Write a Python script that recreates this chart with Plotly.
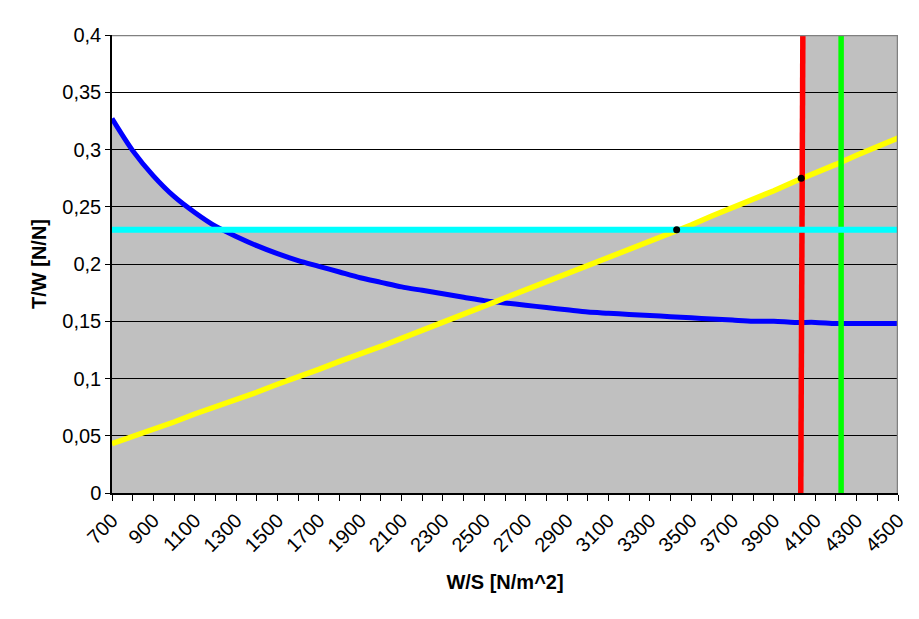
import numpy as np
import plotly.graph_objects as go

# ---- data ----
ws = list(range(700, 4501, 100))  # W/S [N/m^2] categories
tw_blue = [0.327, 0.299, 0.277, 0.259, 0.245, 0.233, 0.224, 0.216, 0.209, 0.203,
           0.198, 0.193, 0.188, 0.184, 0.180, 0.177, 0.174, 0.171, 0.168, 0.166,
           0.164, 0.162, 0.160, 0.158, 0.157, 0.156, 0.155, 0.154, 0.153, 0.152,
           0.151, 0.150, 0.150, 0.149, 0.149, 0.148, 0.148, 0.148, 0.148]
tw_yellow = [0.043, 0.049, 0.056, 0.062, 0.069, 0.075, 0.082, 0.088, 0.095, 0.101,
             0.108, 0.115, 0.121, 0.128, 0.135, 0.142, 0.149, 0.156, 0.163, 0.170,
             0.177, 0.184, 0.191, 0.198, 0.205, 0.212, 0.220, 0.227, 0.234, 0.242,
             0.249, 0.257, 0.264, 0.272, 0.279, 0.287, 0.295, 0.302, 0.310]
cyan_x = [700, 4500]
cyan_y = [0.23, 0.23]
red_x = [4030, 4040]
red_y = [0.0, 0.4]
green_x = [4225, 4225]
green_y = [0.0, 0.4]
dot_x = [3430, 4032]
dot_y = [0.23, 0.275]
x_ticks = list(range(700, 4501, 100))
x_labels = [str(v) if (v - 700) % 200 == 0 else "" for v in x_ticks]
y_ticks = [0, 0.05, 0.1, 0.15, 0.2, 0.25, 0.3, 0.35, 0.4]

FONT = "Liberation Sans, Arial, sans-serif"
GRAY = "#C0C0C0"

# ---- white (feasible) region built from the series ----
xf = np.linspace(ws[0], red_x[0], 600)
env = np.maximum.reduce([np.interp(xf, ws, tw_blue),
                         np.interp(xf, ws, tw_yellow),
                         np.full_like(xf, cyan_y[0])])
pts = [(xf[0], 0.4)] + list(zip(xf, env)) + [(red_x[0], env[-1]), (red_x[1], 0.4)]
path = "M " + " L ".join(f"{a:.2f},{b:.5f}" for a, b in pts) + " Z"

fig = go.Figure()
line_w = 5.5
fig.add_trace(go.Scatter(x=ws, y=tw_blue, mode="lines",
                         line=dict(color="#0000FF", width=5, shape="spline", smoothing=0.8),
                         hoverinfo="skip"))
fig.add_trace(go.Scatter(x=ws, y=tw_yellow, mode="lines",
                         line=dict(color="#FFFF00", width=line_w), hoverinfo="skip"))
fig.add_trace(go.Scatter(x=red_x, y=red_y, mode="lines",
                         line=dict(color="#FF0000", width=line_w), hoverinfo="skip"))
fig.add_trace(go.Scatter(x=green_x, y=green_y, mode="lines",
                         line=dict(color="#00FF00", width=line_w), hoverinfo="skip"))
fig.add_trace(go.Scatter(x=cyan_x, y=cyan_y, mode="lines",
                         line=dict(color="#00FFFF", width=6), hoverinfo="skip"))
fig.add_trace(go.Scatter(x=dot_x, y=dot_y, mode="markers",
                         marker=dict(color="black", size=7), hoverinfo="skip"))

# page body has an 8px margin, so the figure is shifted by 8px
fig.update_layout(
    width=911, height=611,
    margin=dict(l=104, r=21, t=27, b=126),
    paper_bgcolor="white", plot_bgcolor=GRAY,
    separators=", ",
    showlegend=False,
    font=dict(family=FONT, size=20, color="black"),
    shapes=[
        dict(type="path", path=path, xref="x", yref="y", layer="below",
             fillcolor="white", line=dict(width=0)),
        dict(type="line", xref="x", yref="y", x0=700, x1=4500, y0=0.4, y1=0.4,
             line=dict(color="#808080", width=2.5), layer="above"),
        dict(type="line", xref="x", yref="y", x0=4500, x1=4500, y0=0, y1=0.4,
             line=dict(color="#808080", width=2.5), layer="above"),
    ],
)
fig.update_xaxes(
    range=[700, 4500], tickvals=x_ticks, ticktext=x_labels, tickangle=-45,
    ticks="outside", ticklen=6, tickcolor="black", showgrid=False, zeroline=False,
    showline=True, linecolor="black", linewidth=1.5,
    title=dict(text="<b>W/S [N/m^2]</b>", font=dict(size=20), standoff=20),
)
fig.update_yaxes(
    range=[0, 0.4], tickvals=y_ticks, ticks="outside", ticklen=5, tickcolor="black",
    showgrid=True, gridcolor="black", gridwidth=1, zeroline=False,
    showline=True, linecolor="black", linewidth=1.5,
    title=dict(text="<b>T/W [N/N]</b>", font=dict(size=20), standoff=10),
)

fig.write_html("out.html")
